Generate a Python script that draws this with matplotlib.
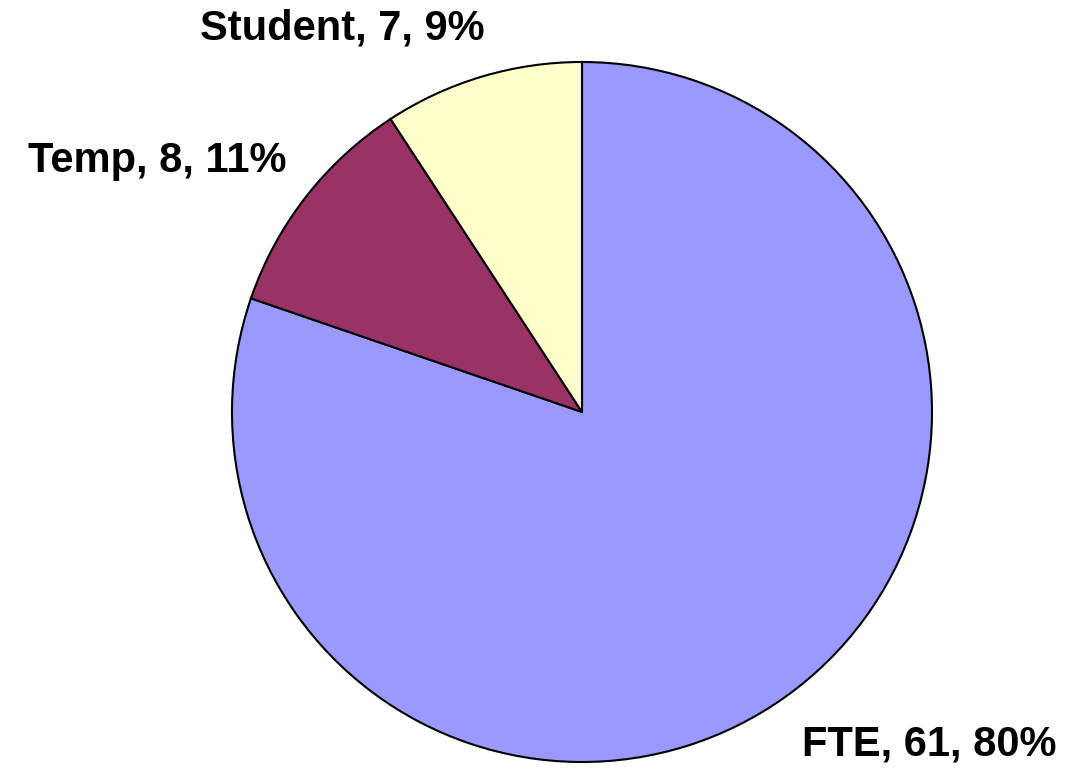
import matplotlib
matplotlib.use("Agg")
import matplotlib.pyplot as plt

categories = ["FTE", "Temp", "Student"]
values = [61, 8, 7]
colors = ["#9999FF", "#993366", "#FFFFCC"]

W, H = 1078, 774
fig = plt.figure(figsize=(W / 100, H / 100), dpi=100)
ax = fig.add_axes([0, 0, 1, 1])
ax.set_xlim(0, W)
ax.set_ylim(0, H)
ax.set_aspect("equal")
ax.axis("off")

cx, cy, r = 582, H - 412, 350
wedges, _ = ax.pie(values, colors=colors, startangle=90, counterclock=False,
                   center=(cx, cy), radius=r,
                   wedgeprops=dict(edgecolor="black", linewidth=1.5))
ax.set_xlim(0, W)
ax.set_ylim(0, H)

total = sum(values)
label_pos = {"FTE": (929, H - 745), "Temp": (157, H - 161), "Student": (342, H - 28)}
for name, v in zip(categories, values):
    pct = round(100 * v / total)
    x, y = label_pos[name]
    ax.text(x, y, f"{name}, {v}, {pct}%", ha="center", va="center",
            fontsize=30, fontweight="bold", family=["Liberation Sans", "DejaVu Sans"])

fig.savefig("out.png", dpi=100)
